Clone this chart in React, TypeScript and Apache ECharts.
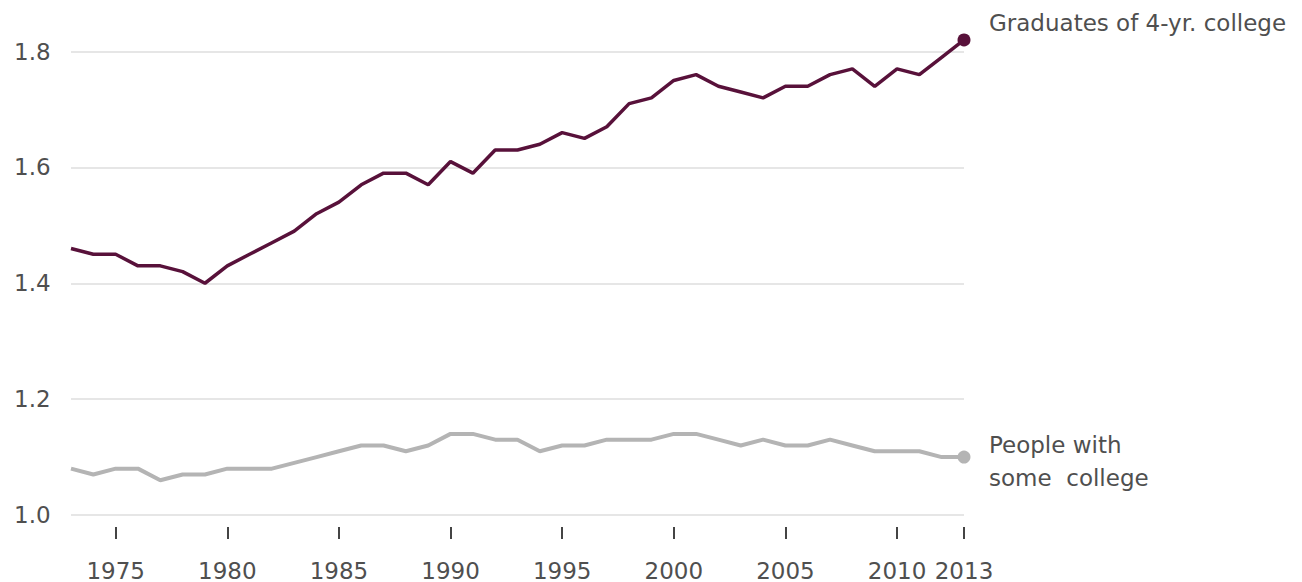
import React, { useEffect, useRef } from "react";
import * as echarts from "echarts";

const years: string[] = [
  "1973","1974","1975","1976","1977","1978","1979","1980","1981","1982",
  "1983","1984","1985","1986","1987","1988","1989","1990","1991","1992",
  "1993","1994","1995","1996","1997","1998","1999","2000","2001","2002",
  "2003","2004","2005","2006","2007","2008","2009","2010","2011","2012","2013",
];

const graduates: number[] = [
  1.46, 1.45, 1.45, 1.43, 1.43, 1.42, 1.40, 1.43, 1.45, 1.47,
  1.49, 1.52, 1.54, 1.57, 1.59, 1.59, 1.57, 1.61, 1.59, 1.63,
  1.63, 1.64, 1.66, 1.65, 1.67, 1.71, 1.72, 1.75, 1.76, 1.74,
  1.73, 1.72, 1.74, 1.74, 1.76, 1.77, 1.74, 1.77, 1.76, 1.79, 1.82,
];

const someCollege: number[] = [
  1.08, 1.07, 1.08, 1.08, 1.06, 1.07, 1.07, 1.08, 1.08, 1.08,
  1.09, 1.10, 1.11, 1.12, 1.12, 1.11, 1.12, 1.14, 1.14, 1.13,
  1.13, 1.11, 1.12, 1.12, 1.13, 1.13, 1.13, 1.14, 1.14, 1.13,
  1.12, 1.13, 1.12, 1.12, 1.13, 1.12, 1.11, 1.11, 1.11, 1.10, 1.10,
];

const shownYears: string[] = ["1975", "1980", "1985", "1990", "1995", "2000", "2005", "2010", "2013"];
const yTicks: number[] = [1.0, 1.2, 1.4, 1.6, 1.8];

const gradLabel = "Graduates of 4-yr. college";
const someLabel = "People with\nsome  college";

const FONT = "DejaVu Sans";
const TEXT = "#4f4f4f";

export default function App() {
  const ref = useRef<HTMLDivElement>(null);
  useEffect(() => {
    if (!ref.current) return;
    const chart = echarts.init(ref.current, undefined, { renderer: "svg" });
    const last = years.length - 1;
    chart.setOption({
      animation: false,
      backgroundColor: "#ffffff",
      grid: { left: 71, right: 338, top: 51.5, bottom: 67, containLabel: false },
      xAxis: {
        type: "category",
        data: years,
        boundaryGap: false,
        offset: 12,
        axisLine: { show: false },
        axisTick: {
          show: true,
          length: 12,
          interval: (_i: number, v: string) => shownYears.includes(v),
          lineStyle: { color: "#444", width: 2 },
        },
        axisLabel: {
          show: true,
          interval: (_i: number, v: string) => shownYears.includes(v),
          margin: 32,
          color: TEXT,
          fontFamily: FONT,
          fontSize: 23,
        },
        splitLine: { show: false },
      },
      yAxis: {
        type: "value",
        min: yTicks[0],
        max: yTicks[yTicks.length - 1],
        interval: 0.2,
        axisLine: { show: false },
        axisTick: { show: false },
        axisLabel: {
          align: "left",
          margin: 57,
          color: TEXT,
          fontFamily: FONT,
          fontSize: 23,
          padding: [0, 0, 7, 0],
          formatter: (v: number) => v.toFixed(1),
        },
        splitLine: { lineStyle: { color: "#e6e6e6", width: 2 } },
      },
      series: [
        {
          type: "line",
          data: someCollege,
          clip: false,
          symbol: "circle",
          showAllSymbol: true,
          symbolSize: (_v: number, p: any) => (p.dataIndex === last ? 13 : 0),
          lineStyle: { color: "#b4b4b4", width: 4 },
          itemStyle: { color: "#b4b4b4" },
          endLabel: {
            show: true,
            formatter: () => someLabel,
            distance: 25,
            offset: [0, 4],
            color: TEXT,
            fontFamily: FONT,
            fontSize: 23,
            lineHeight: 33,
            align: "left",
          },
          z: 2,
        },
        {
          type: "line",
          data: graduates,
          clip: false,
          symbol: "circle",
          showAllSymbol: true,
          symbolSize: (_v: number, p: any) => (p.dataIndex === last ? 13 : 0),
          lineStyle: { color: "#58113a", width: 3.5 },
          itemStyle: { color: "#58113a" },
          endLabel: {
            show: true,
            formatter: () => gradLabel,
            distance: 25,
            offset: [0, -17],
            color: TEXT,
            fontFamily: FONT,
            fontSize: 23,
            align: "left",
          },
          z: 3,
        },
      ],
    });
    return () => chart.dispose();
  }, []);
  return (
    <div
      ref={ref}
      style={{ position: "fixed", left: 0, top: 0, width: 1302, height: 582 }}
    />
  );
}
